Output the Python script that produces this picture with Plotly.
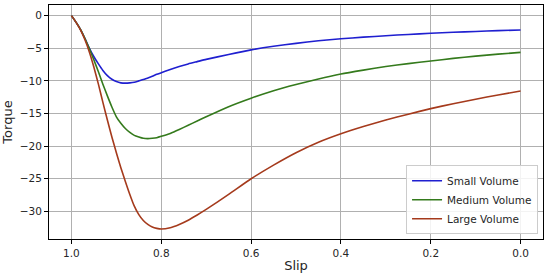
'''
    Torque vs slip curves for three volumes, drawn with plotly.
'''

import plotly.graph_objects as go

# slip values
slip = [1.0, 0.99, 0.98, 0.97, 0.96, 0.95, 0.94, 0.93, 0.92, 0.91, 0.90,
        0.89, 0.88, 0.87, 0.86, 0.85, 0.84, 0.83, 0.82, 0.81, 0.80,
        0.78, 0.76, 0.74, 0.72, 0.70, 0.65, 0.60, 0.55, 0.50, 0.45,
        0.40, 0.35, 0.30, 0.25, 0.20, 0.15, 0.10, 0.05, 0.0]

torque_small = [0, -1.0, -2.1, -3.5, -5.0, -6.3, -7.4, -8.4, -9.2, -9.75, -10.1,
                -10.3, -10.35, -10.3, -10.2, -10.0, -9.8, -9.55, -9.3, -9.0, -8.75,
                -8.25, -7.8, -7.4, -7.05, -6.7, -5.95, -5.25, -4.7, -4.25, -3.85,
                -3.55, -3.3, -3.08, -2.88, -2.7, -2.55, -2.42, -2.3, -2.2]

torque_medium = [0, -1.0, -2.1, -3.5, -5.1, -6.8, -8.6, -10.5, -12.3, -14.0, -15.5,
                 -16.5, -17.3, -17.9, -18.35, -18.6, -18.8, -18.85, -18.8, -18.7, -18.5,
                 -18.05, -17.45, -16.8, -16.15, -15.5, -13.95, -12.65, -11.5, -10.55, -9.7,
                 -8.95, -8.35, -7.8, -7.35, -6.95, -6.55, -6.2, -5.9, -5.63]

torque_large = [0, -1.0, -2.2, -3.7, -5.6, -7.9, -10.5, -13.3, -16.0, -18.6, -21.0,
                -23.3, -25.4, -27.4, -29.2, -30.5, -31.4, -32.0, -32.4, -32.6, -32.7,
                -32.5, -32.0, -31.35, -30.55, -29.7, -27.4, -25.0, -22.9, -21.0, -19.4,
                -18.1, -17.0, -16.0, -15.1, -14.25, -13.5, -12.8, -12.15, -11.56]

x_ticks = [1.0, 0.8, 0.6, 0.4, 0.2, 0.0]
y_ticks = [0, -5, -10, -15, -20, -25, -30]

series = [
    ('Small Volume', torque_small, '#1f1fd0'),
    ('Medium Volume', torque_medium, '#347a1c'),
    ('Large Volume', torque_large, '#a53a1c'),
]

fig = go.Figure()
for name, values, color in series:
    fig.add_trace(go.Scatter(
        x=slip, y=values, name=name, mode='lines',
        line=dict(color=color, width=1.6, shape='spline', smoothing=0.5)
    ))

axis_style = dict(
    showline=True, linecolor='black', linewidth=1, mirror=True,
    showgrid=True, gridcolor='#b0b0b0', gridwidth=1,
    ticks='outside', ticklen=4, tickcolor='black',
    zeroline=False, automargin=False,
    tickfont=dict(size=10.5, color='#262626'),
)

fig.update_layout(
    width=550, height=276,
    margin=dict(l=49, r=7, t=5, b=37),
    paper_bgcolor='white', plot_bgcolor='white',
    font=dict(family='DejaVu Sans', size=10.5, color='#262626'),
    xaxis=dict(axis_style, range=[1.05, -0.05], tickvals=x_ticks,
               tickformat='.1f', title=dict(text='Slip', standoff=3)),
    yaxis=dict(axis_style, range=[-34.23, 1.63], tickvals=y_ticks,
               title=dict(text='Torque', standoff=6)),
    legend=dict(x=0.99, y=0.02, xanchor='right', yanchor='bottom',
                bgcolor='rgba(255,255,255,0.85)', bordercolor='#cccccc',
                borderwidth=1, font=dict(size=10.5), tracegroupgap=0,
                itemwidth=30),
    showlegend=True,
)

# the page body has a default 8px margin; drop it so the figure sits at 0,0
fig.write_html("out.html", config={'displayModeBar': False},
               post_script="document.body.style.margin='0';document.body.style.overflow='hidden';")
